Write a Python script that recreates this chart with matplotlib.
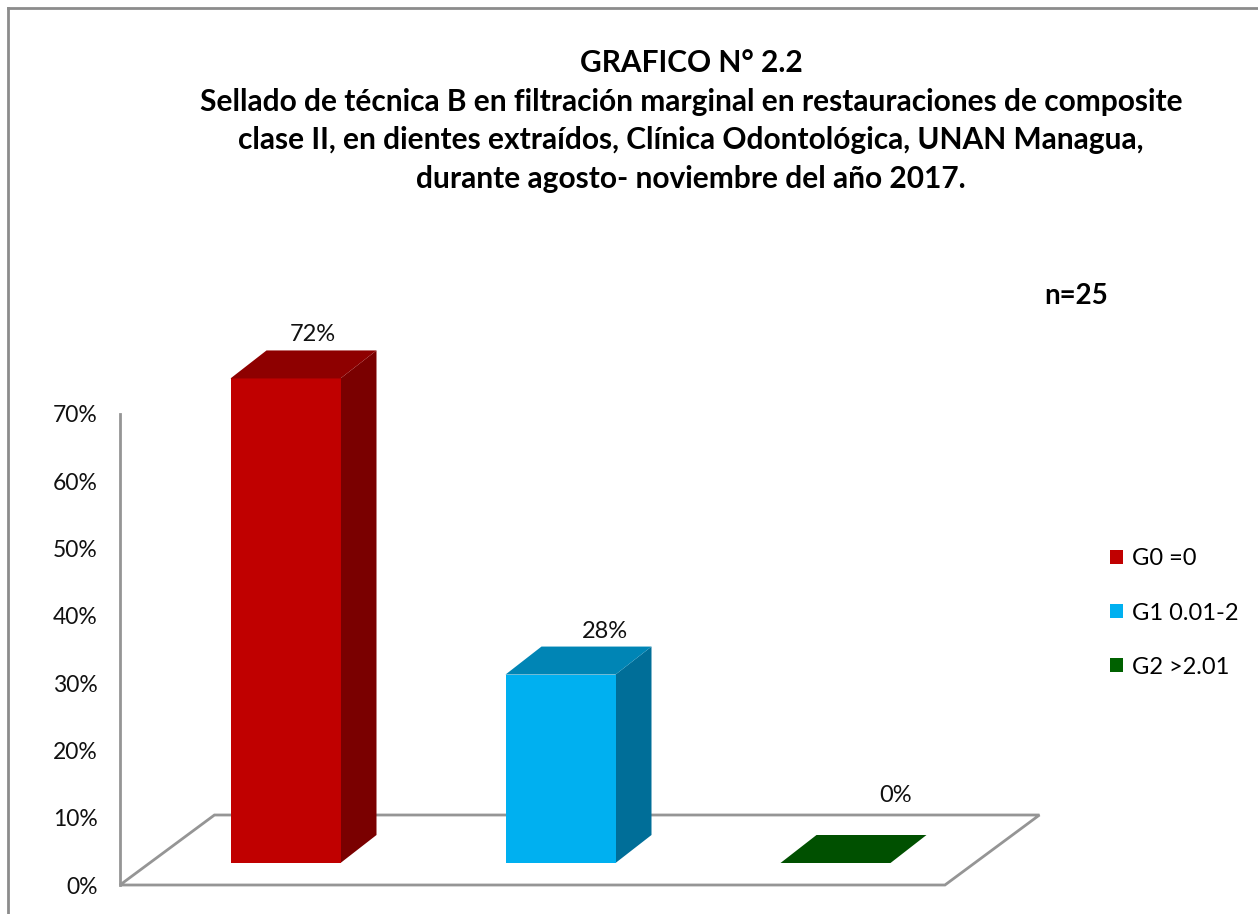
import numpy as np
import matplotlib.pyplot as plt
from matplotlib.patches import Polygon, Patch
from matplotlib.lines import Line2D

# data
categories = ['G0 =0', 'G1 0.01-2', 'G2 >2.01']
values = [72, 28, 0]  # %
yticks = [0, 10, 20, 30, 40, 50, 60, 70]

front_colors = ['#C00000', '#00B0F0', '#005000']
top_colors = ['#8E0000', '#0085B5', '#005000']
side_colors = ['#7A0000', '#006E98', '#004000']

title = ('GRAFICO N° 2.2\n'
         'Sellado de técnica B en filtración marginal en restauraciones de composite\n'
         'clase II, en dientes extraídos, Clínica Odontológica, UNAN Managua,\n'
         'durante agosto- noviembre del año 2017.')

plt.rcParams['font.family'] = ['Lato', 'DejaVu Sans']

W, H, DPI = 1258, 914, 100
fig = plt.figure(figsize=(W / DPI, H / DPI), dpi=DPI)

# layout of the plot area in pixels (from top-left), and pixel scale of the data
L, R, T, B = 100, 1060, 290, 900
x0_px, x_step = 285.5, 275.0  # centre of first category, spacing
y0_px, y_step = 885.0, 6.73   # 0 % line, pixels per 1 %

ax = fig.add_axes([L / W, (H - B) / H, (R - L) / W, (B - T) / H])
ax.set_xlim((L - x0_px) / x_step, (R - x0_px) / x_step)
ax.set_ylim((y0_px - B) / y_step, (y0_px - T) / y_step)

# depth vectors (data units)
floor_dx, floor_dy = 94.5 / x_step, 70 / y_step
bar_dx, bar_dy = 36 / x_step, 28 / y_step
bar_base = 22 / y_step
bar_w = 0.4
x_left, x_right = -0.602, 2.398

# floor
floor = Polygon([(x_left, 0), (x_right, 0), (x_right + floor_dx, floor_dy),
                 (x_left + floor_dx, floor_dy)], closed=True,
                facecolor='white', edgecolor='#959595', lw=2, zorder=1)
ax.add_patch(floor)

# 3D-looking bars
for i, v in enumerate(values):
    xl, xr = i - bar_w / 2, i + bar_w / 2
    yb, yt = bar_base, bar_base + v
    if v > 0:
        ax.add_patch(Polygon([(xr, yb), (xr + bar_dx, yb + bar_dy), (xr + bar_dx, yt + bar_dy), (xr, yt)],
                             closed=True, facecolor=side_colors[i], edgecolor='none', zorder=2))
        ax.add_patch(Polygon([(xl, yb), (xr, yb), (xr, yt), (xl, yt)],
                             closed=True, facecolor=front_colors[i], edgecolor='none', zorder=3))
    ax.add_patch(Polygon([(xl, yt), (xr, yt), (xr + bar_dx, yt + bar_dy), (xl + bar_dx, yt + bar_dy)],
                         closed=True, facecolor=top_colors[i], edgecolor='none', zorder=3))
    ax.text(i + 0.1 + 0.06 * i, yt + bar_dy + 2.3 + 3.5 * (v == 0), '%d%%' % v,
            ha='center', va='center', fontsize=17, color='#111111')

# vertical axis
for s in ['top', 'right', 'bottom']:
    ax.spines[s].set_visible(False)
ax.spines['left'].set_position(('data', x_left))
ax.spines['left'].set_bounds(0, 70)
ax.spines['left'].set_color('#959595')
ax.spines['left'].set_linewidth(2)
ax.set_yticks(yticks)
ax.set_yticklabels(['%d%%' % t for t in yticks], fontsize=16.5, color='#111111')
ax.tick_params(axis='y', length=0, pad=16)
ax.set_xticks([])
ax.patch.set_visible(False)

# titles
fig.text(691 / W, 1 - 121 / H, title, ha='center', va='center', fontsize=21.5, fontweight='bold',
         linespacing=1.45)
fig.text(1076 / W, 1 - 296 / H, 'n=25', ha='center', va='center', fontsize=20, fontweight='bold')

# legend
handles = [Patch(facecolor=c, edgecolor='none') for c in front_colors]
handles[2] = Patch(facecolor='#006100', edgecolor='none')
fig.legend(handles, categories, loc='center left', bbox_to_anchor=(1098 / W, 1 - 613 / H),
           frameon=False, fontsize=17, handlelength=0.55, handleheight=0.55,
           handletextpad=0.4, labelspacing=1.4, borderpad=0)

# chart border
fig.add_artist(Line2D([8 / W, 1], [1 - 8 / H, 1 - 8 / H], color='#8c8c8c', lw=2))
fig.add_artist(Line2D([8 / W, 8 / W], [0, 1 - 8 / H], color='#8c8c8c', lw=2))

fig.savefig('out.png', dpi=DPI)
